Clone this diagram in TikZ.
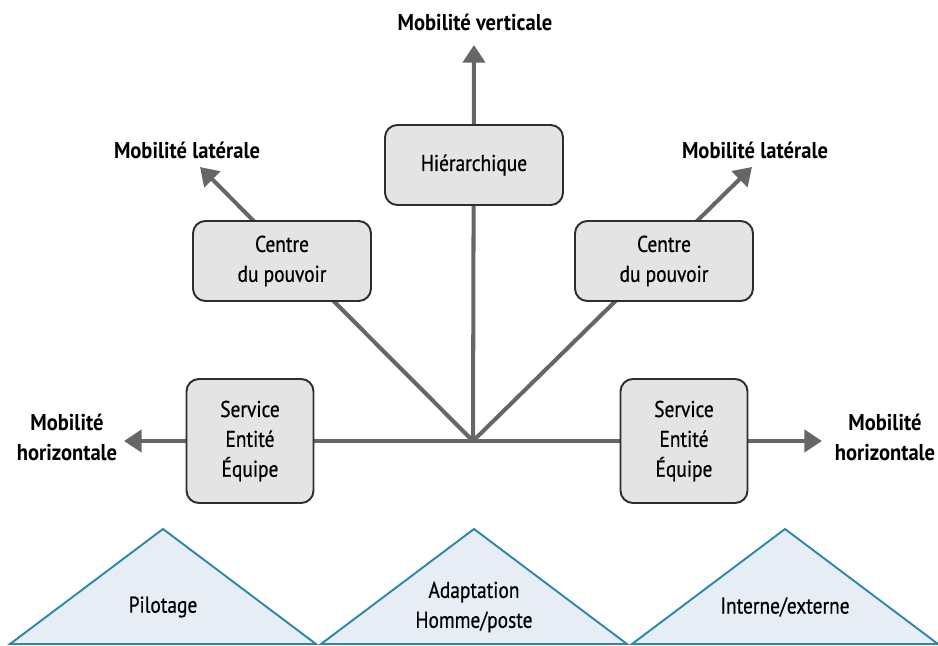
\documentclass[tikz,border=0pt]{standalone}
\usepackage{fontspec}
\setmainfont{PT Sans}[FakeStretch=0.85,FakeBold=0.6,
  BoldFeatures={FakeStretch=0.9,FakeBold=0}]
\usetikzlibrary{arrows.meta}
\definecolor{mobgray}{HTML}{666666}
\definecolor{boxgray}{HTML}{E4E4E4}
\definecolor{boxline}{HTML}{2E2E2E}
\definecolor{tribg}{HTML}{E6EDF4}
\definecolor{triline}{HTML}{2F88A8}

\tikzset{
  mobarrow/.style={mobgray,line width=2.3pt,-{Triangle[length=10pt,width=12.5pt]}},
  mobbox/.style={draw=boxline,line width=1.1pt,fill=boxgray,rounded corners=7pt,
    align=center,inner sep=0pt,font=\fontsize{13}{17}\selectfont},
  widebox/.style={mobbox,minimum width=3.56cm,minimum height=1.6cm},
  tallbox/.style={mobbox,minimum width=2.54cm,minimum height=2.48cm},
  moblabel/.style={align=center,font=\bfseries\fontsize{13}{17}\selectfont},
  tritext/.style={align=center,font=\fontsize{13}{17}\selectfont}
}

\begin{document}
\begin{tikzpicture}[x=0.02cm,y=-0.02cm]
  \useasboundingbox (0,0) rectangle (938,646);

  % axes of mobility
  \coordinate (O) at (473,441);
  \coordinate (up) at (474,45);
  \coordinate (upleft) at (200,167);
  \coordinate (upright) at (752,167);
  \coordinate (left) at (124,441);
  \coordinate (right) at (822,441);
  \foreach \tip in {up,upleft,upright,left,right}
    \draw[mobarrow] (O) -- (\tip);

  % boxes on the axes
  \node[widebox] (hier) at (474,165) {Hiérarchique};
  \node[widebox] (pouvoirL) at (282,261) {Centre\\du pouvoir};
  \node[widebox] (pouvoirR) at (664,261) {Centre\\du pouvoir};
  \node[tallbox] (serviceL) at (250,441) {Service\\Entité\\Équipe};
  \node[tallbox] (serviceR) at (684,441) {Service\\Entité\\Équipe};

  % labels at the arrow tips
  \node[moblabel] (verticale) at (475,22) {Mobilité verticale};
  \node[moblabel] (lateraleL) at (187,150) {Mobilité latérale};
  \node[moblabel] (lateraleR) at (755,150) {Mobilité latérale};
  \node[moblabel] (horizL) at (67,437) {Mobilité\\horizontale};
  \node[moblabel] (horizR) at (885,437) {Mobilité\\horizontale};

  % bottom triangles
  \foreach \cx/\txt [count=\i] in {163/Pilotage,474/{Adaptation\\Homme/poste},785/{Interne/externe}} {
    \filldraw[fill=tribg,draw=triline,line width=1.1pt,line join=miter]
      (\cx-153,644) -- (\cx,529) -- (\cx+153,644) -- cycle;
    \node[tritext] (tri\i) at (\cx,607) {\txt};
  }
\end{tikzpicture}
\end{document}
